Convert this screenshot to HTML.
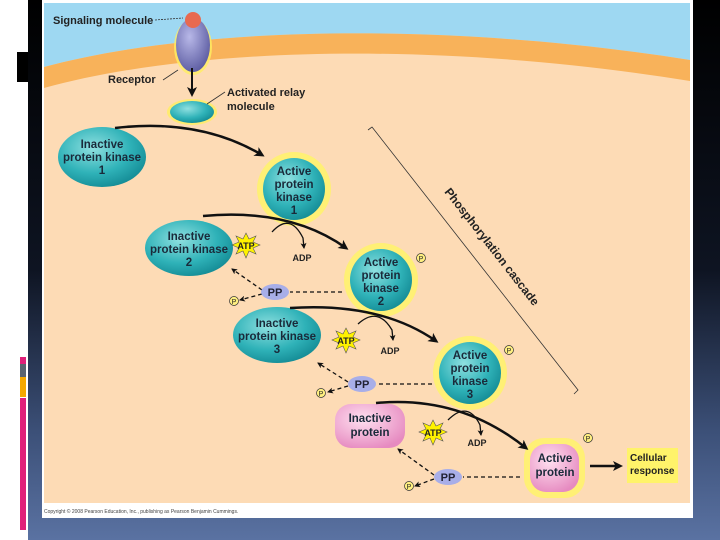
<!DOCTYPE html>
<html><head><style>
body{margin:0;width:720px;height:540px;overflow:hidden;background:#fff;}
svg{display:block;font-family:"Liberation Sans",sans-serif;}
</style></head><body>
<svg width="720" height="540" viewBox="0 0 720 540">
<defs>
<linearGradient id="bg" x1="0" y1="0" x2="0" y2="1">
<stop offset="0" stop-color="#000"/><stop offset="0.5" stop-color="#0e1422"/><stop offset="0.8" stop-color="#3c5078"/><stop offset="1" stop-color="#5a72a2"/>
</linearGradient>
<radialGradient id="teal" cx="0.4" cy="0.35" r="0.7">
<stop offset="0" stop-color="#8fe0e0"/><stop offset="0.6" stop-color="#2fb2b8"/><stop offset="1" stop-color="#138a94"/>
</radialGradient>
<radialGradient id="pink" cx="0.4" cy="0.35" r="0.7">
<stop offset="0" stop-color="#ffe0f0"/><stop offset="1" stop-color="#e68ac0"/>
</radialGradient>
<radialGradient id="purp" cx="0.4" cy="0.35" r="0.7">
<stop offset="0" stop-color="#b8b8e8"/><stop offset="1" stop-color="#5a5aa0"/>
</radialGradient>
<marker id="ah" markerWidth="10" markerHeight="10" refX="7" refY="5" orient="auto" markerUnits="userSpaceOnUse"><path d="M0,0 L10,5 L0,10 L2.5,5z" fill="#111"/></marker>
<marker id="as" markerWidth="6" markerHeight="6" refX="5" refY="3" orient="auto" markerUnits="userSpaceOnUse"><path d="M0,0 L6,3 L0,6 L1.5,3z" fill="#111"/></marker>
</defs>
<rect x="28" y="0" width="692" height="540" fill="url(#bg)"/>
<rect x="17" y="52" width="11" height="30" fill="#000"/>
<rect x="20" y="357" width="6" height="7" fill="#e0207a"/>
<rect x="20" y="364" width="6" height="13" fill="#5a6470"/>
<rect x="20" y="377" width="6" height="20" fill="#f5a800"/>
<rect x="20" y="398" width="6" height="132" fill="#e0207a"/>
<rect x="42" y="0" width="651" height="518" fill="#fff"/>
<rect x="44" y="3" width="646" height="500" fill="#fddbb5"/>
<path d="M44,3 H690 V60 C450,22 200,25 44,67 Z" fill="#9ed8f2"/>
<path d="M44,67 C200,25 450,22 690,60 V81 C450,42 200,45 44,88 Z" fill="#f8b25a"/>
<text x="44" y="513" font-size="5" fill="#444">Copyright © 2008 Pearson Education, Inc., publishing as Pearson Benjamin Cummings.</text>

<g font-weight="bold" font-size="11" fill="#222">
<text x="53" y="24">Signaling molecule</text>
<line x1="155" y1="20" x2="183" y2="18" stroke="#333" stroke-width="0.8" stroke-dasharray="2,1"/>
<ellipse cx="193" cy="47" rx="19" ry="28" fill="#ffef60" opacity="0.8"/>
<ellipse cx="193" cy="45" rx="17" ry="27" fill="url(#purp)"/>
<circle cx="193" cy="20" r="8" fill="#e86a50"/>
<text x="108" y="83">Receptor</text>
<line x1="163" y1="80" x2="178" y2="70" stroke="#333" stroke-width="0.8"/>
<line x1="192" y1="68" x2="192" y2="94" stroke="#111" stroke-width="2" marker-end="url(#ah)"/>
<ellipse cx="192" cy="112" rx="25" ry="13" fill="#ffef60" opacity="0.8"/>
<ellipse cx="192" cy="112" rx="22" ry="11" fill="url(#teal)"/>
<line x1="207" y1="104" x2="225" y2="92" stroke="#333" stroke-width="0.8"/>
<text x="227" y="96">Activated relay</text>
<text x="227" y="110">molecule</text>
</g>

<g fill="none" stroke="#111" stroke-width="1.3" stroke-dasharray="4,3">
<line x1="342" y1="292" x2="290" y2="292"/>
<line x1="262" y1="290" x2="232" y2="269" marker-end="url(#as)"/>
<line x1="262" y1="294" x2="240" y2="300" marker-end="url(#as)"/>
<line x1="432" y1="384" x2="376" y2="384"/>
<line x1="348" y1="382" x2="318" y2="363" marker-end="url(#as)"/>
<line x1="348" y1="386" x2="328" y2="392" marker-end="url(#as)"/>
<line x1="520" y1="477" x2="463" y2="477"/>
<line x1="434" y1="475" x2="398" y2="449" marker-end="url(#as)"/>
<line x1="434" y1="479" x2="415" y2="486" marker-end="url(#as)"/>
</g>

<path d="M368,130 L372,127 L578,390 L574,394" fill="none" stroke="#333" stroke-width="0.8"/>
<text x="0" y="0" font-size="12" font-weight="bold" fill="#222" transform="translate(444,192) rotate(52)">Phosphorylation cascade</text>

<g font-weight="bold" font-size="11.5" fill="#1a2a3a" text-anchor="middle">
<ellipse cx="102" cy="157" rx="44" ry="30" fill="url(#teal)"/>
<text x="102" y="148">Inactive</text><text x="102" y="161">protein kinase</text><text x="102" y="174">1</text>
<circle cx="294" cy="189" r="37" fill="#fff36a" opacity="0.85"/>
<circle cx="294" cy="189" r="31" fill="url(#teal)"/>
<text x="294" y="175">Active</text><text x="294" y="188">protein</text><text x="294" y="201">kinase</text><text x="294" y="214">1</text>

<ellipse cx="189" cy="248" rx="44" ry="28" fill="url(#teal)"/>
<text x="189" y="240">Inactive</text><text x="189" y="253">protein kinase</text><text x="189" y="266">2</text>
<circle cx="381" cy="280" r="37" fill="#fff36a" opacity="0.85"/>
<circle cx="381" cy="280" r="31" fill="url(#teal)"/>
<text x="381" y="266">Active</text><text x="381" y="279">protein</text><text x="381" y="292">kinase</text><text x="381" y="305">2</text>

<ellipse cx="277" cy="335" rx="44" ry="28" fill="url(#teal)"/>
<text x="277" y="327">Inactive</text><text x="277" y="340">protein kinase</text><text x="277" y="353">3</text>
<circle cx="470" cy="373" r="37" fill="#fff36a" opacity="0.85"/>
<circle cx="470" cy="373" r="31" fill="url(#teal)"/>
<text x="470" y="359">Active</text><text x="470" y="372">protein</text><text x="470" y="385">kinase</text><text x="470" y="398">3</text>

<rect x="335" y="404" width="70" height="44" rx="16" fill="url(#pink)"/>
<text x="370" y="422">Inactive</text><text x="370" y="436">protein</text>
<rect x="524" y="438" width="61" height="60" rx="20" fill="#fff36a" opacity="0.85"/>
<rect x="530" y="444" width="49" height="48" rx="16" fill="url(#pink)"/>
<text x="555" y="462">Active</text><text x="555" y="476">protein</text>
</g>
<rect x="627" y="448" width="51" height="35" fill="#fff36a"/>
<text x="630" y="461" font-size="10" font-weight="bold" fill="#222">Cellular</text>
<text x="630" y="474" font-size="10" font-weight="bold" fill="#222">response</text>

<g fill="none" stroke="#111" stroke-width="2.5">
<path d="M115,128 Q200,118 262,155" marker-end="url(#ah)"/>
<path d="M203,216 Q290,208 346,248" marker-end="url(#ah)"/>
<path d="M290,308 Q380,302 436,341" marker-end="url(#ah)"/>
<path d="M376,403 Q460,395 526,448" marker-end="url(#ah)"/>
<path d="M590,466 H620" marker-end="url(#ah)"/>
</g>
<g fill="none" stroke="#111" stroke-width="1.3">
<path d="M272,232 Q290,212 303,238 L304,248" marker-end="url(#as)"/>
<path d="M358,324 Q378,306 392,330 L393,340" marker-end="url(#as)"/>
<path d="M448,420 Q468,400 480,425 L481,435" marker-end="url(#as)"/>
</g>

<g font-size="9" font-weight="bold" fill="#222" text-anchor="middle">
<g fill="#fff200" stroke="#555" stroke-width="0.6">
<polygon points="246,233 249,239 256,236 253,242 260,245 253,248 256,254 249,251 246,258 243,251 236,254 239,248 232,245 239,242 236,236 243,239"/>
<polygon points="346,328 349,334 356,331 353,337 360,340 353,343 356,349 349,346 346,353 343,346 336,349 339,343 332,340 339,337 336,331 343,334"/>
<polygon points="433,420 436,426 443,423 440,429 447,432 440,435 443,441 436,438 433,445 430,438 423,441 426,435 419,432 426,429 423,423 430,426"/>
</g>
<text x="246" y="249">ATP</text><text x="346" y="344">ATP</text><text x="433" y="436">ATP</text>
<text x="302" y="261">ADP</text><text x="390" y="354">ADP</text><text x="477" y="446">ADP</text>
</g>
<g font-size="11" font-weight="bold" fill="#223" text-anchor="middle">
<ellipse cx="275" cy="292" rx="14" ry="8" fill="#a8aee8"/><text x="275" y="296">PP</text>
<ellipse cx="362" cy="384" rx="14" ry="8" fill="#a8aee8"/><text x="362" y="388">PP</text>
<ellipse cx="448" cy="477" rx="14" ry="8" fill="#a8aee8"/><text x="448" y="481">PP</text>
</g>
<g font-size="7" fill="#222" text-anchor="middle" stroke-width="0.7">
<circle cx="234" cy="301" r="4.5" fill="#ffef80" stroke="#333"/><text x="234" y="304">P</text>
<circle cx="321" cy="393" r="4.5" fill="#ffef80" stroke="#333"/><text x="321" y="396">P</text>
<circle cx="409" cy="486" r="4.5" fill="#ffef80" stroke="#333"/><text x="409" y="489">P</text>
<circle cx="421" cy="258" r="4.5" fill="#ffef80" stroke="#333"/><text x="421" y="261">P</text>
<circle cx="509" cy="350" r="4.5" fill="#ffef80" stroke="#333"/><text x="509" y="353">P</text>
<circle cx="588" cy="438" r="4.5" fill="#ffef80" stroke="#333"/><text x="588" y="441">P</text>
</g>
</svg>
</body></html>
